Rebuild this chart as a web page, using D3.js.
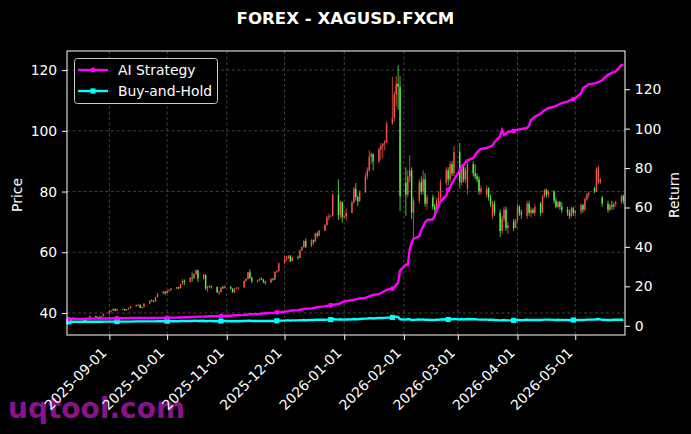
<!DOCTYPE html>
<html><head><meta charset="utf-8">
<script src="https://cdn.jsdelivr.net/npm/d3@7/dist/d3.min.js"></script>
<style>body{margin:0;background:#000;} svg{display:block;font-family:"DejaVu Sans",sans-serif;}</style>
</head><body><svg id="c" width="691" height="434"></svg>
<script>
const chartTitle = "FOREX - XAGUSD.FXCM";
const firstDay = "2025-08-11";   // weekdays (Mon-Fri) from here
const lastDay = "2026-05-26";
const opens = [
38.3,37.8,37.9,38.4,38.0, 38.0,38.1,37.4,37.9,38.1, 39.0,38.6,38.5,38.9,39.0, 39.7,40.7,40.8,41.3,40.8,
41.2,41.3,40.9,41.2,41.6, 42.2,42.6,42.7,41.7,42.0, 43.1,44.1,44.0,43.8,45.2, 46.4,47.0,46.6,47.3,47.5,
48.0,48.5,48.2,49.5,50.6, 50.2,51.6,51.4,52.8,54.0, 51.3,52.6,48.1,48.6,48.9, 48.6,46.8,46.9,48.4,48.2,
48.6,48.0,46.8,48.0,48.2, 48.4,50.6,51.2,53.4,51.6, 50.5,50.9,51.2,51.0,50.4, 50.0,51.2,51.0,53.5,53.8,
56.4,57.6,58.0,58.9,57.1, 58.4,58.2,60.6,61.7,63.7, 61.9,64.0,63.5,66.1,65.5, 67.1,69.0,71.5,71.8,72.0,
79.0,72.2,76.5,71.6,71.8, 73.0,76.4,80.9,78.2,76.8, 79.8,85.0,87.0,91.5,92.3, 89.9,94.0,94.9,95.8,96.3,
102.4,104.3,112.0,115.5,114.5, 83,79,85,87,73, 77,83,80,84,76, 78,75,74,77,78,
83,87,84,89,86, 93,83,88,84,81, 89,86,85,84,80, 79,81,78,72,76,
73,67,71,74,68, 70,68,70.5,75,73, 72,76,73,74,73, 76,73,78.5,80.5,79,
80,77,75,76.5,75, 74,73,72,74.5,73, 73.5,75.5,74,77.5,79, 81,80,83,83,78,
76,74,75.5,75,76, 76.5,78.5];
const highs = [
38.5,38.1,38.6,38.5,38.2, 38.2,38.2,38.0,38.3,39.1, 39.1,38.8,39.0,39.2,39.8, 40.8,41.0,41.5,41.4,41.5,
41.5,41.4,41.3,41.8,42.4, 42.8,42.9,42.8,42.2,43.2, 44.2,44.5,44.2,45.3,46.5, 47.2,47.1,47.5,47.8,48.2,
48.7,48.6,49.6,51.2,51.0, 51.8,53.4,53.0,54.4,54.2, 52.8,52.7,49.0,49.3,49.0, 48.7,47.4,48.6,49.0,49.2,
48.9,48.1,48.2,48.6,48.6, 50.7,51.4,53.6,54.4,52.0, 51.0,51.6,51.8,51.3,50.6, 51.4,51.6,53.7,54.1,56.6,
58.8,58.8,59.0,59.0,58.6, 58.9,60.8,62.0,64.0,64.6, 64.3,64.2,66.4,66.8,67.4, 69.3,72.0,72.7,72.4,79.5,
84.0,77.0,76.8,72.4,74.5, 77.0,81.5,82.8,78.6,80.4, 86.0,88.0,93.6,93.0,92.6, 94.5,95.9,96.0,97.0,103.0,
117.7,113.0,118.0,121.7,118.0, 88,87,92,88,78, 84,85,87,86,79, 79,76,78,80,84,
88,88,90,90,95, 96,89,89,88,90, 90,89,86,85,82, 82,81.5,79,77,77,
74,72,75,75,70, 71,71,76,75.5,74, 77,77,75,74.5,76, 76.5,79,81,81,80.5,
80.5,78,77,77,76.5, 75,74,75,75,74, 76,76,78,79.5,80, 81.5,88,88.5,84.5,78.5,
77,76,77,76.5,77, 79,79];
const lows = [
37.6,37.5,37.8,37.9,37.8, 37.9,37.4,37.3,37.8,38.0, 38.5,38.3,38.4,38.8,38.9, 39.6,40.4,40.7,40.6,40.7,
41.0,40.6,40.8,41.1,41.5, 42.1,42.3,41.6,41.5,41.9, 43.0,43.8,43.5,43.7,45.1, 46.3,45.9,46.5,46.9,47.4,
47.9,47.7,48.1,49.4,49.2, 50.1,50.3,51.2,52.6,50.2, 51.0,47.5,46.9,48.2,48.0, 46.6,45.8,46.8,47.9,48.1,
47.8,46.7,46.7,47.9,47.6, 48.3,50.3,51.0,51.2,49.8, 50.0,50.4,50.8,49.8,49.4, 49.9,50.6,50.9,53.2,53.7,
56.3,57.0,57.8,56.8,57.0, 57.6,58.1,60.4,61.5,61.4, 61.8,62.6,63.4,64.8,65.3, 67.0,68.8,70.5,71.5,71.9,
70.6,71.0,69.8,71.2,70.5, 72.8,76.0,77.0,75.2,76.5, 79.5,84.0,86.5,89.0,87.0, 89.5,90.5,91.0,93.5,96.0,
102.0,103.0,108.0,107.0,73.5, 72,78,83,71,64, 76,79,79,75,74, 74,72,73,76,77,
82,82,83,85,85, 81,82,83,83,79, 85,84,83,79,79, 78,77,75,71,72,
65,66,70,67,66, 67,68,70,72,71, 71,72,71.5,72.5,72, 72,73,78,78,78,
76,74.5,74.5,74,73, 72,71,71.5,72,72, 72.5,73,73.5,77,78, 79.5,80,82.5,82.5,75,
73,73.5,74,74,75, 76,76];
const closes = [
37.8,37.9,38.4,38.0,38.1, 38.1,37.4,37.9,38.1,39.0, 38.6,38.5,38.9,39.0,39.7, 40.7,40.8,41.3,40.8,41.2,
41.3,40.9,41.2,41.6,42.2, 42.6,42.7,41.7,42.0,43.1, 44.1,44.0,43.8,45.2,46.4, 47.0,46.6,47.3,47.5,48.0,
48.5,48.2,49.5,50.6,50.2, 51.6,51.4,52.8,54.0,51.3, 52.6,48.1,48.6,48.9,48.6, 46.8,46.9,48.4,48.2,48.6,
48.0,46.8,48.0,48.2,48.4, 50.6,51.2,53.4,51.6,50.5, 50.9,51.2,51.0,50.4,50.0, 51.2,51.0,53.5,53.8,56.4,
57.6,58.0,58.9,57.1,58.4, 58.2,60.6,61.7,63.7,61.9, 64.0,63.5,66.1,65.5,67.1, 69.0,71.5,71.8,72.0,79.0,
72.2,76.5,71.6,71.8,73.0, 76.4,80.9,78.2,76.8,79.8, 85.0,87.0,91.5,92.3,89.9, 94.0,94.9,95.8,96.3,102.4,
104.3,112.0,115.5,114.5,78.5, 79,85,87,73,77, 83,80,84,76,78, 75,74,77,78,83,
87,84,89,86,93, 83,88,84,87,89, 86,85,84,80,81, 81,78,76,76,73,
67,71,74,68,69, 68,70.5,75,73,72.5, 76,73,74,73,75, 73,78.5,80.5,79,80,
77,75,76.5,75,74, 73,72,74.5,73,73.5, 75.5,74,77.5,79,79.5, 80,87.5,88,84,76,
74,75.5,75,76,76.5, 78.5,77];
const aiReturn = [
3.4,3.4,3.5,3.5,3.5, 3.5,3.5,3.6,3.6,3.6, 3.6,3.6,3.7,3.7,3.7, 3.7,3.7,3.8,3.8,3.8,
3.8,3.8,3.8,3.8,3.9, 3.9,3.9,3.9,3.9,3.9, 3.9,3.9,3.9,3.9,3.9, 3.9,4.0,4.0,4.0,4.1,
4.1,4.2,4.2,4.3,4.3, 4.4,4.4,4.5,4.5,4.6, 4.6,4.7,4.7,4.8,4.8, 4.9,4.9,5.0,5.0,5.1,
5.1,5.2,5.3,5.3,5.4, 5.5,5.6,5.7,5.8,5.8, 5.9,6.0,6.1,6.2,6.3, 6.4,6.5,6.7,6.8,7.0,
7.1,7.3,7.4,7.6,7.7, 7.9,8.1,8.3,8.5,8.6, 8.8,9.0,9.2,9.4,9.6, 9.8,10.0,10.2,10.4,10.6,
11.0,11.5,12.0,12.3,12.6, 12.9,13.2,13.4,13.6,13.8, 14.1,14.5,14.9,15.3,15.6, 16.0,16.6,17.1,17.6,18.2,
18.8,19.6,20.6,22.0,28.0, 31.0,30.8,38.5,42.0,44.0, 45.5,48.5,50.5,52.5,53.6, 54.0,56.0,58.5,61.0,63.0,
66.0,69.0,70.5,72.4,74.0, 79.0,80.5,81.6,83.0,84.0, 85.0,86.5,88.0,89.0,89.7, 90.2,90.6,91.0,91.4,93.0,
96.3,99.3,96.8,97.5,98.3, 98.8,99.2,99.4,99.6,99.8, 100.4,101.5,104.4,105.2,106.0, 107.5,108.6,109.3,109.8,110.5,
111.2,111.6,112.0,112.5,113.0, 113.7,114.2,114.6,115.0,115.4, 118.0,120.5,121.2,121.8,122.5, 123.0,123.3,123.6,124.0,124.7,
127.3,127.8,128.3,128.7,129.0, 132.3,132.3];
const bhReturn = [
2.0,2.0,2.0,2.0,2.0, 2.0,2.0,2.0,2.0,2.0, 2.0,2.0,2.0,2.0,2.1, 2.1,2.1,2.1,2.1,2.1,
2.1,2.1,2.1,2.1,2.1, 2.2,2.2,2.2,2.2,2.2, 2.2,2.2,2.2,2.2,2.3, 2.3,2.3,2.3,2.3,2.3,
2.3,2.3,2.4,2.4,2.4, 2.4,2.4,2.5,2.5,2.4, 2.5,2.3,2.4,2.4,2.4, 2.3,2.3,2.4,2.4,2.4,
2.3,2.3,2.3,2.3,2.3, 2.4,2.4,2.5,2.5,2.4, 2.4,2.4,2.4,2.4,2.4, 2.4,2.4,2.5,2.5,2.6,
2.6,2.7,2.7,2.6,2.7, 2.7,2.8,2.8,2.9,2.8, 2.9,2.9,3.0,3.0,3.0, 3.0,3.1,3.1,3.1,3.4,
3.1,3.3,3.1,3.1,3.2, 3.3,3.4,3.3,3.3,3.4, 3.6,3.6,3.8,3.8,3.7, 3.9,3.9,3.9,4.0,4.1,
4.2,4.4,4.6,4.5,3.3, 3.1,3.3,3.3,2.9,3.0, 3.2,3.1,3.2,3.0,3.0, 2.9,2.9,3.0,3.0,3.2,
3.3,3.2,3.4,3.3,3.5, 3.2,3.4,3.2,3.3,3.4, 3.3,3.3,3.2,3.1,3.1, 3.1,3.0,3.0,3.0,2.9,
2.7,2.8,2.9,2.7,2.7, 2.7,2.8,2.9,2.9,2.8, 3.0,2.9,2.9,2.9,2.9, 2.9,3.0,3.1,3.1,3.1,
3.0,2.9,3.0,2.9,2.9, 2.9,2.8,2.9,2.9,2.9, 2.9,2.9,3.0,3.1,3.1, 3.1,3.3,3.4,3.2,3.0,
2.9,2.9,2.9,3.0,3.0, 3.0,3.0];
const markerDates = ["2025-08-11","2025-09-05","2025-10-01","2025-10-29","2025-11-27","2025-12-25","2026-01-26","2026-02-24","2026-03-30","2026-04-30"];
const priceTicks = [40, 60, 80, 100, 120];
const returnTicks = [0, 20, 40, 60, 80, 100, 120];
const dateTicks = ["2025-09-01","2025-10-01","2025-11-01","2025-12-01","2026-01-01","2026-02-01","2026-03-01","2026-04-01","2026-05-01"];
const seriesNames = ["AI Strategy", "Buy-and-Hold"];
const axisNames = ["Price", "Return"];
const watermark = "uqtool.com";

const parse = d3.utcParse("%Y-%m-%d");
const fmt = d3.utcFormat("%Y-%m-%d");
const dates = d3.utcDay.range(parse(firstDay), d3.utcDay.offset(parse(lastDay), 1))
  .filter(d => d.getUTCDay() !== 0 && d.getUTCDay() !== 6);
const n = Math.min(dates.length, opens.length, highs.length, lows.length, closes.length);
const candles = d3.range(n).map(i => ({d: dates[i], o: opens[i], h: highs[i], l: lows[i], c: closes[i]}));
const markSet = new Set(markerDates);
const ai = d3.range(Math.min(dates.length, aiReturn.length)).map(i => ({d: dates[i], v: aiReturn[i], m: markSet.has(fmt(dates[i]))}));
const bh = d3.range(Math.min(dates.length, bhReturn.length)).map(i => ({d: dates[i], v: bhReturn[i], m: markSet.has(fmt(dates[i]))}));

const W = 691, H = 434, L = 67, R = 625, T = 51, B = 335;
const FS = 13.9;
const svg = d3.select("#c");
svg.append("rect").attr("width", W).attr("height", H).attr("fill", "#000");

const x = d3.scaleUtc().domain([new Date(Date.UTC(2025,7,10)), new Date(Date.UTC(2026,4,26,20))]).range([L, R]);
const yP = d3.scaleLinear().domain([32.75, 126.3]).range([B, T]);
const yR = d3.scaleLinear().domain([-4.7, 139.4]).range([B, T]);

// watermark (under text)
svg.append("text").attr("x", 8).attr("y", 418).text(watermark)
  .attr("font-size", 28).attr("font-weight", "bold").attr("fill", "#8a128a");

// grid
const grid = svg.append("g").attr("stroke", "#505050").attr("stroke-width", 0.8).attr("stroke-dasharray", "3,2.5");
grid.selectAll("line.h").data(priceTicks).join("line").attr("class","h")
  .attr("x1", L).attr("x2", R).attr("y1", d => yP(d)).attr("y2", d => yP(d));
grid.selectAll("line.v").data(dateTicks).join("line").attr("class","v")
  .attr("y1", T).attr("y2", B).attr("x1", d => x(parse(d))).attr("x2", d => x(parse(d)));

// candles
const up = "#f0564a", down = "#5cf048";
const cg = svg.append("g");
cg.selectAll("line").data(candles).join("line")
  .attr("x1", d => x(d.d)).attr("x2", d => x(d.d))
  .attr("y1", d => yP(d.h)).attr("y2", d => yP(d.l))
  .attr("stroke", d => d.c >= d.o ? up : down).attr("stroke-width", 0.8);
cg.selectAll("rect").data(candles).join("rect")
  .attr("x", d => x(d.d) - 0.7).attr("width", 1.4)
  .attr("y", d => yP(Math.max(d.o, d.c))).attr("height", d => Math.max(0.6, Math.abs(yP(d.o) - yP(d.c))))
  .attr("fill", d => d.c >= d.o ? up : down);

// return lines
const lineR = d3.line().x(d => x(d.d)).y(d => yR(d.v));
svg.append("path").datum(bh).attr("d", lineR).attr("fill", "none").attr("stroke", "#00ffff").attr("stroke-width", 2.4);
svg.append("path").datum(ai).attr("d", lineR).attr("fill", "none").attr("stroke", "#ff00ff").attr("stroke-width", 2.4);
svg.append("g").selectAll("rect").data(bh.filter(d => d.m)).join("rect")
  .attr("x", d => x(d.d) - 2.6).attr("y", d => yR(d.v) - 2.6).attr("width", 5.2).attr("height", 5.2).attr("fill", "#00ffff");
svg.append("g").selectAll("circle").data(ai.filter(d => d.m)).join("circle")
  .attr("cx", d => x(d.d)).attr("cy", d => yR(d.v)).attr("r", 2.4).attr("fill", "#ff00ff");

// spines
svg.append("rect").attr("x", L).attr("y", T).attr("width", R - L).attr("height", B - T)
  .attr("fill", "none").attr("stroke", "#fff").attr("stroke-width", 1);

function styleAxis(g) {
  g.select(".domain").remove();
  g.selectAll(".tick line").attr("stroke", "#fff");
  g.selectAll(".tick text").attr("fill", "#fff").attr("font-size", FS).attr("font-family", "DejaVu Sans");
}
svg.append("g").attr("transform", `translate(${L},0)`)
  .call(d3.axisLeft(yP).tickValues(priceTicks).tickSize(4.9).tickPadding(4.9)).call(styleAxis);
svg.append("g").attr("transform", `translate(${R},0)`)
  .call(d3.axisRight(yR).tickValues(returnTicks).tickSize(4.9).tickPadding(4.9)).call(styleAxis);
const xg = svg.append("g").attr("transform", `translate(0,${B})`)
  .call(d3.axisBottom(x).tickValues(dateTicks.map(parse)).tickFormat(fmt).tickSize(4.9)).call(styleAxis);
xg.selectAll(".tick text").attr("x", 0).attr("y", 0).attr("dy", 0)
  .attr("text-anchor", "end").attr("transform", "translate(-2.3,18.8) rotate(-45)");

// title + axis labels
svg.append("text").attr("x", 345.5).attr("y", 24).attr("text-anchor", "middle")
  .attr("font-size", 16.6).attr("font-weight", "bold").attr("fill", "#fff").text(chartTitle);
svg.append("text").attr("transform", "translate(22,195) rotate(-90)").attr("text-anchor", "middle")
  .attr("font-size", FS).attr("fill", "#fff").text(axisNames[0]);
svg.append("text").attr("transform", "translate(679,195) rotate(-90)").attr("text-anchor", "middle")
  .attr("font-size", FS).attr("fill", "#fff").text(axisNames[1]);

// legend
const lg = svg.append("g");
lg.append("rect").attr("x", 74.5).attr("y", 58.5).attr("width", 143).attr("height", 45).attr("rx", 3)
  .attr("fill", "#000").attr("fill-opacity", 0.8).attr("stroke", "#cccccc").attr("stroke-width", 1);
const legendItems = [
  {name: seriesNames[0], color: "#ff00ff", shape: "circle", y: 70},
  {name: seriesNames[1], color: "#00ffff", shape: "square", y: 91}
];
legendItems.forEach(it => {
  lg.append("line").attr("x1", 78).attr("x2", 108).attr("y1", it.y).attr("y2", it.y)
    .attr("stroke", it.color).attr("stroke-width", 2.4);
  if (it.shape === "circle") lg.append("circle").attr("cx", 93).attr("cy", it.y).attr("r", 2.4).attr("fill", it.color);
  else lg.append("rect").attr("x", 90.4).attr("y", it.y - 2.6).attr("width", 5.2).attr("height", 5.2).attr("fill", it.color);
  lg.append("text").attr("x", 118).attr("y", it.y + 5).attr("font-size", FS).attr("fill", "#fff").text(it.name);
});
</script></body></html>
